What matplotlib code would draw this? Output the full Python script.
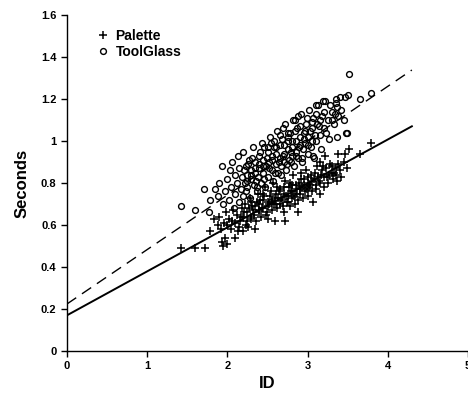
import matplotlib
matplotlib.use("Agg")
import matplotlib.pyplot as plt

plt.rcParams['font.family'] = ['Liberation Sans', 'DejaVu Sans']

# Palette (+) points
palette_x = [1.42, 1.60, 1.72, 1.78, 1.83, 1.88, 1.90, 1.92, 1.93, 1.95, 1.96, 1.97, 1.98, 2.00, 2.00,
             2.02, 2.05, 2.07, 2.09, 2.10, 2.12, 2.14, 2.16, 2.18, 2.20, 2.20, 2.22, 2.24, 2.25, 2.26,
             2.28, 2.30, 2.30, 2.32, 2.34, 2.35, 2.36, 2.38, 2.40, 2.40, 2.42, 2.44, 2.45, 2.47, 2.48,
             2.50, 2.50, 2.51, 2.53, 2.55, 2.55, 2.57, 2.58, 2.59, 2.60, 2.62, 2.63, 2.65, 2.66, 2.68,
             2.70, 2.70, 2.72, 2.72, 2.74, 2.75, 2.77, 2.78, 2.80, 2.80, 2.82, 2.84, 2.85, 2.86, 2.88,
             2.88, 2.90, 2.92, 2.94, 2.95, 2.97, 2.98, 3.00, 3.00, 3.02, 3.04, 3.05, 3.07, 3.08, 3.10,
             3.12, 3.14, 3.15, 3.17, 3.19, 3.20, 3.22, 3.24, 3.26, 3.28, 3.30, 3.32, 3.35, 3.36, 3.37,
             3.38, 3.38, 3.40, 3.42, 3.45, 3.47, 3.49, 3.52, 3.65, 3.79,
             2.21, 2.23, 2.27, 2.29, 2.31, 2.33, 2.37, 2.39, 2.41, 2.43, 2.46, 2.49, 2.52, 2.54, 2.56,
             2.59, 2.61, 2.64, 2.67, 2.69, 2.71, 2.73, 2.76, 2.79, 2.81, 2.83, 2.87, 2.89, 2.91, 2.93,
             2.96, 2.99, 3.01, 3.03, 3.06, 3.09, 3.11, 3.13, 3.16, 3.18, 3.21, 3.23, 3.27, 3.31, 3.33,
             2.06, 2.13, 2.17, 2.44, 2.62, 2.78, 2.92, 3.15]
palette_y = [0.49, 0.49, 0.49, 0.57, 0.63, 0.60, 0.64, 0.58, 0.52, 0.50, 0.61, 0.54, 0.66, 0.51, 0.60,
             0.63, 0.58, 0.67, 0.54, 0.61, 0.65, 0.59, 0.62, 0.68, 0.57, 0.64, 0.70, 0.62, 0.66, 0.59,
             0.73, 0.64, 0.71, 0.67, 0.58, 0.69, 0.62, 0.75, 0.66, 0.70, 0.64, 0.72, 0.68, 0.78, 0.65,
             0.71, 0.69, 0.63, 0.74, 0.67, 0.72, 0.80, 0.70, 0.62, 0.75, 0.68, 0.73, 0.70, 0.77, 0.72,
             0.66, 0.75, 0.81, 0.62, 0.71, 0.74, 0.78, 0.69, 0.73, 0.76, 0.84, 0.70, 0.75, 0.79, 0.66,
             0.72, 0.77, 0.82, 0.73, 0.79, 0.76, 0.86, 0.74, 0.80, 0.78, 0.84, 0.76, 0.71, 0.82, 0.79,
             0.88, 0.81, 0.75, 0.84, 0.88, 0.78, 0.93, 0.83, 0.80, 0.89, 0.85, 0.82, 0.87, 0.84, 0.81,
             0.94, 0.89, 0.86, 0.83, 0.90, 0.94, 0.87, 0.96, 0.94, 0.99,
             0.66, 0.60, 0.68, 0.63, 0.69, 0.65, 0.71, 0.67, 0.72, 0.68, 0.74, 0.66, 0.70, 0.76, 0.71,
             0.73, 0.70, 0.76, 0.73, 0.69, 0.78, 0.74, 0.71, 0.76, 0.79, 0.74, 0.77, 0.80, 0.75, 0.78,
             0.82, 0.77, 0.83, 0.79, 0.81, 0.85, 0.77, 0.83, 0.80, 0.86, 0.83, 0.87, 0.84, 0.88, 0.85,
             0.62, 0.57, 0.64, 0.75, 0.78, 0.80, 0.85, 0.90]

# ToolGlass (o) points
toolglass_x = [1.42, 1.60, 1.71, 1.78, 1.77, 1.84, 1.93, 1.88, 1.90, 1.95, 1.97, 2.00, 2.02, 2.03, 2.05,
               2.06, 2.08, 2.10, 2.10, 2.12, 2.13, 2.15, 2.15, 2.17, 2.18, 2.20, 2.20, 2.22, 2.23, 2.25,
               2.25, 2.27, 2.28, 2.30, 2.30, 2.32, 2.33, 2.35, 2.35, 2.37, 2.38, 2.40, 2.40, 2.42, 2.43,
               2.45, 2.45, 2.47, 2.48, 2.50, 2.50, 2.51, 2.52, 2.53, 2.55, 2.55, 2.57, 2.58, 2.60, 2.60,
               2.62, 2.63, 2.65, 2.65, 2.67, 2.68, 2.69, 2.70, 2.70, 2.72, 2.73, 2.75, 2.75, 2.75, 2.77,
               2.78, 2.80, 2.80, 2.82, 2.83, 2.84, 2.85, 2.85, 2.87, 2.88, 2.90, 2.90, 2.92, 2.93, 2.93,
               2.95, 2.97, 2.98, 3.00, 3.00, 3.02, 3.04, 3.05, 3.07, 3.07, 3.08, 3.10, 3.10, 3.12, 3.13,
               3.15, 3.17, 3.18, 3.19, 3.20, 3.22, 3.25, 3.27, 3.30, 3.33, 3.35, 3.36, 3.37, 3.37, 3.38,
               3.40, 3.42, 3.45, 3.47, 3.48, 3.49, 3.50, 3.52, 3.65, 3.79,
               2.21, 2.24, 2.26, 2.29, 2.31, 2.34, 2.36, 2.39, 2.41, 2.44, 2.46, 2.49, 2.52, 2.54, 2.56,
               2.59, 2.61, 2.64, 2.66, 2.69, 2.71, 2.74, 2.76, 2.79, 2.81, 2.84, 2.86, 2.89, 2.91, 2.94,
               2.96, 2.99, 3.01, 3.03, 3.06, 3.09, 3.11, 3.14, 3.16, 3.21, 3.23, 3.28, 3.31, 3.34,
               2.23, 2.37, 2.46, 2.58, 2.67, 2.79, 2.88, 2.97, 3.06]
toolglass_y = [0.69, 0.67, 0.77, 0.72, 0.66, 0.77, 0.88, 0.74, 0.80, 0.70, 0.76, 0.82, 0.72, 0.86, 0.78,
               0.90, 0.68, 0.75, 0.84, 0.80, 0.93, 0.71, 0.87, 0.77, 0.83, 0.95, 0.74, 0.80, 0.88, 0.78,
               0.84, 0.91, 0.73, 0.82, 0.86, 0.97, 0.79, 0.85, 0.90, 0.76, 0.83, 0.93, 0.87, 0.80, 0.99,
               0.85, 0.91, 0.78, 0.88, 0.95, 0.83, 0.97, 0.90, 1.02, 0.86, 0.93, 0.81, 0.97, 0.89, 0.94,
               1.05, 0.85, 0.92, 0.98, 0.88, 1.01, 1.06, 0.94, 0.90, 1.08, 0.86, 0.96, 1.00, 1.04, 0.91,
               1.04, 0.97, 0.93, 1.10, 0.88, 1.10, 1.00, 0.95, 1.06, 0.92, 1.02, 0.98, 1.13, 0.90, 0.92,
               1.04, 0.99, 1.08, 0.94, 1.02, 1.15, 0.97, 1.06, 1.11, 0.93, 0.92, 1.00, 1.17, 1.08, 1.17,
               1.03, 0.96, 1.12, 1.19, 1.06, 1.19, 1.10, 1.01, 1.14, 1.08, 1.18, 1.20, 1.02, 1.16, 1.12,
               1.21, 1.15, 1.10, 1.21, 1.04, 1.04, 1.22, 1.32, 1.20, 1.23,
               0.86, 0.81, 0.89, 0.84, 0.92, 0.87, 0.81, 0.89, 0.95, 0.88, 0.82, 0.92, 0.87, 0.99, 0.91,
               0.85, 0.97, 0.90, 1.03, 0.93, 0.98, 0.89, 1.02, 0.95, 1.00, 1.05, 0.93, 0.97, 1.07, 0.96,
               1.01, 1.11, 0.98, 1.05, 1.09, 1.03, 1.13, 1.07, 1.10, 1.14, 1.04, 1.17, 1.10, 1.13,
               0.76, 0.78, 0.97, 1.00, 0.84, 0.90, 1.12, 1.05, 1.00]

# regression line end points
fit_x = [0.0, 4.3]
palette_fit = [0.17, 1.07]
toolglass_fit = [0.224, 1.338]

x_ticks = [0, 1, 2, 3, 4, 5]
y_ticks = [0, 0.2, 0.4, 0.6, 0.8, 1.0, 1.2, 1.4, 1.6]
y_tick_labels = ['0', '0.2', '0.4', '0.6', '0.8', '1', '1.2', '1.4', '1.6']

fig = plt.figure(figsize=(4.68, 3.96), dpi=100)
ax = fig.add_axes([67 / 468, 45 / 396, 1 - 67 / 468, 336 / 396])

ax.plot(palette_x, palette_y, linestyle='none', marker='+', markersize=5.5,
        markeredgewidth=1.1, color='black', label='Palette', clip_on=False)
ax.plot(toolglass_x, toolglass_y, linestyle='none', marker='o', markersize=4.2,
        markerfacecolor='none', markeredgewidth=1.0, color='black', label='ToolGlass', clip_on=False)
ax.plot(fit_x, palette_fit, color='black', linewidth=1.4)
ax.plot(fit_x, toolglass_fit, color='black', linewidth=1.0, dashes=(8, 5))

ax.set_xlim(0, 5)
ax.set_ylim(0, 1.6)
ax.set_xticks(x_ticks)
ax.set_yticks(y_ticks)
ax.set_yticklabels(y_tick_labels)
for side in ['top', 'right']:
    ax.spines[side].set_visible(False)
for side in ['left', 'bottom']:
    ax.spines[side].set_linewidth(1.0)
ax.tick_params(direction='out', length=4, width=1, labelsize=8)
for lab in ax.get_xticklabels() + ax.get_yticklabels():
    lab.set_fontweight('bold')

ax.set_xlabel('ID', fontsize=12, fontweight='bold', labelpad=3)
ax.set_ylabel('Seconds', fontsize=12, fontweight='bold', labelpad=8)

leg = ax.legend(loc='upper left', bbox_to_anchor=(0.045, 0.995), frameon=False,
                handlelength=0.8, handletextpad=0.5, labelspacing=0.15,
                prop={'weight': 'bold', 'size': 10})

fig.savefig('out.png', dpi=100)
